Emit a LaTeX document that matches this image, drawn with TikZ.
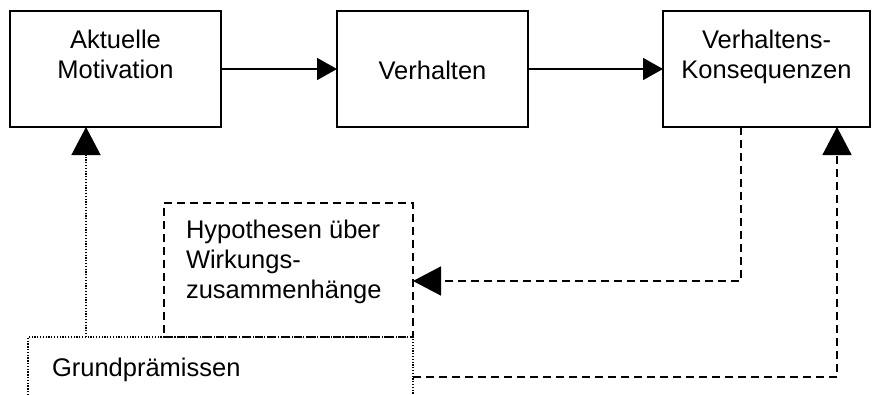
\documentclass[tikz,border=0pt]{standalone}
\usepackage{fontspec}
\setmainfont{Liberation Sans}
\usetikzlibrary{arrows.meta}
\tikzset{
  boxstyle/.style={draw, line width=1.6pt, inner sep=0pt, outer sep=0pt, font=\fontsize{25.5}{30}\selectfont},
  dashbox/.style={boxstyle, dash pattern=on 8pt off 5pt},
  dotbox/.style={boxstyle, line width=1.3pt, dash pattern=on 1.3pt off 1.5pt},
  solidarr/.style={line width=1.6pt, -{Triangle[length=20pt,width=22pt]}},
  dasharr/.style={line width=1.6pt, dash pattern=on 8pt off 5pt, -{Triangle[length=28pt,width=29pt]}},
  dotarr/.style={line width=1.3pt, dash pattern=on 1.3pt off 1.5pt, -{Triangle[length=28pt,width=29pt]}}
}
\begin{document}
\begin{tikzpicture}[x=1pt,y=-1pt]
\clip (0,0) rectangle (880,394);
\node[boxstyle] (b1) at (115.5,69) {\parbox[c][116pt][t]{211pt}{\centering\vspace*{19pt}Aktuelle\\Motivation}};
\node[boxstyle] (b2) at (432.5,69) {\parbox[c][116pt][c]{191pt}{\centering\vspace*{2pt}Verhalten}};
\node[boxstyle] (b3) at (766.5,69) {\parbox[c][116pt][t]{207pt}{\centering\vspace*{19pt}Verhaltens-\\Konsequenzen}};
\node[dashbox] (h) at (288.5,270) {\parbox[c][134pt][t]{249pt}{\raggedright\leftskip=22pt\vspace*{17pt}Hypothesen über\\Wirkungs-\\zusammenhänge}};
\node[dotbox] (g) at (220.5,380) {\parbox[c][86pt][t]{385pt}{\raggedright\leftskip=24pt\vspace*{21pt}Grundprämissen}};
\coordinate (c1) at (86,337);
\coordinate (c2) at (741,281);
\coordinate (c3) at (837,377);
\draw[solidarr] (b1) -- (b2);
\draw[solidarr] (b2) -- (b3);
\draw[dotarr] (c1) -- (c1 |- b1.south);
\draw[dasharr] (c2 |- b3.south) -- (c2) -- (c2 -| h.east);
\draw[dasharr] (c3 -| g.east) -- (c3) -- (c3 |- b3.south);
\end{tikzpicture}
\end{document}
